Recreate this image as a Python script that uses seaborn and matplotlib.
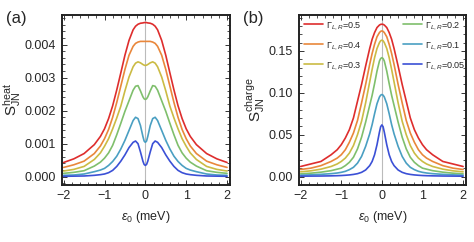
#!/usr/bin/env python3
# Johnson-Nyquist heat and charge noise vs dot level

import pandas as pd
import numpy as np
import matplotlib
matplotlib.use('Agg')
import matplotlib.pyplot as plt
import seaborn as sns
from matplotlib.ticker import AutoMinorLocator, FormatStrFormatter

sns.set_style('ticks')
plt.rcParams['font.family'] = ['Liberation Sans', 'DejaVu Sans']
plt.rcParams['mathtext.fontset'] = 'custom'
plt.rcParams['mathtext.rm'] = 'Liberation Sans'
plt.rcParams['mathtext.it'] = 'Liberation Sans:italic'

# energy grid (meV)
eps0 = [-2, -1.75, -1.5, -1.25, -1.1, -1.0, -0.9, -0.8, -0.7, -0.6, -0.5, -0.4, -0.3, -0.24, -0.18, -0.12, -0.06, -0.03,
        0, 0.03, 0.06, 0.12, 0.18, 0.24, 0.3, 0.4, 0.5, 0.6, 0.7, 0.8, 0.9, 1.0, 1.1, 1.25, 1.5, 1.75, 2]

gammas = ['0.5', '0.4', '0.3', '0.2', '0.1', '0.05']
colors = ['#DE2D2D', '#E9873B', '#CBBB44', '#7FBF6C', '#4A9FC2', '#3B50D6']

# panel (a): heat noise
heat_05 = [0.00043, 0.00054, 0.00070, 0.00097, 0.00122, 0.00145, 0.00176, 0.00215, 0.00263, 0.00315, 0.00368, 0.00413,
           0.00445, 0.00456, 0.00462, 0.00465, 0.00466, 0.00467, 0.00467, 0.00467, 0.00466, 0.00465, 0.00462, 0.00456,
           0.00445, 0.00413, 0.00368, 0.00315, 0.00263, 0.00215, 0.00176, 0.00145, 0.00122, 0.00097, 0.00070, 0.00054,
           0.00043]
heat_04 = [0.00028, 0.00036, 0.00047, 0.00070, 0.00093, 0.00115, 0.00143, 0.00180, 0.00225, 0.00275, 0.00325, 0.00368,
           0.00395, 0.00404, 0.00408, 0.00410, 0.00410, 0.00410, 0.00410, 0.00410, 0.00410, 0.00410, 0.00408, 0.00404,
           0.00395, 0.00368, 0.00325, 0.00275, 0.00225, 0.00180, 0.00143, 0.00115, 0.00093, 0.00070, 0.00047, 0.00036,
           0.00028]
heat_03 = [0.00017, 0.00022, 0.00031, 0.00052, 0.00072, 0.00092, 0.00115, 0.00145, 0.00178, 0.00214, 0.00260, 0.00302,
           0.00333, 0.00344, 0.00348, 0.00345, 0.00340, 0.00338, 0.00337, 0.00338, 0.00340, 0.00345, 0.00348, 0.00344,
           0.00333, 0.00302, 0.00260, 0.00214, 0.00178, 0.00145, 0.00115, 0.00092, 0.00072, 0.00052, 0.00031, 0.00022,
           0.00017]
heat_02 = [0.00010, 0.00013, 0.00018, 0.00032, 0.00044, 0.00056, 0.00072, 0.00095, 0.00127, 0.00162, 0.00198, 0.00230,
           0.00262, 0.00274, 0.00276, 0.00260, 0.00242, 0.00236, 0.00234, 0.00236, 0.00242, 0.00260, 0.00276, 0.00274,
           0.00262, 0.00230, 0.00198, 0.00162, 0.00127, 0.00095, 0.00072, 0.00056, 0.00044, 0.00032, 0.00018, 0.00013,
           0.00010]
heat_01 = [0.00004, 0.00005, 0.00008, 0.00015, 0.00020, 0.00025, 0.00034, 0.00046, 0.00062, 0.00084, 0.00110, 0.00140,
           0.00170, 0.00180, 0.00176, 0.00155, 0.00122, 0.00108, 0.00104, 0.00108, 0.00122, 0.00155, 0.00176, 0.00180,
           0.00170, 0.00140, 0.00110, 0.00084, 0.00062, 0.00046, 0.00034, 0.00025, 0.00020, 0.00015, 0.00008, 0.00005,
           0.00004]
heat_005 = [0.00001, 0.000015, 0.00002, 0.00004, 0.00006, 0.00008, 0.00012, 0.00019, 0.00031, 0.00047, 0.00066, 0.00088,
            0.00104, 0.00108, 0.00100, 0.00075, 0.00047, 0.00037, 0.00034, 0.00037, 0.00047, 0.00075, 0.00100, 0.00108,
            0.00104, 0.00088, 0.00066, 0.00047, 0.00031, 0.00019, 0.00012, 0.00008, 0.00006, 0.00004, 0.00002, 0.000015,
            0.00001]

# panel (b): charge noise
charge_05 = [0.012, 0.015, 0.018, 0.026, 0.032, 0.038, 0.046, 0.056, 0.070, 0.090, 0.110, 0.132, 0.153, 0.164, 0.172,
             0.178, 0.181, 0.1818, 0.182, 0.1818, 0.181, 0.178, 0.172, 0.164, 0.153, 0.132, 0.110, 0.090, 0.070, 0.056,
             0.046, 0.038, 0.032, 0.026, 0.018, 0.015, 0.012]
charge_04 = [0.0084, 0.010, 0.013, 0.018, 0.022, 0.026, 0.032, 0.041, 0.052, 0.067, 0.088, 0.110, 0.134, 0.147, 0.158,
             0.167, 0.172, 0.1735, 0.174, 0.1735, 0.172, 0.167, 0.158, 0.147, 0.134, 0.110, 0.088, 0.067, 0.052, 0.041,
             0.032, 0.026, 0.022, 0.018, 0.013, 0.010, 0.0084]
charge_03 = [0.0056, 0.0068, 0.0088, 0.012, 0.015, 0.018, 0.022, 0.028, 0.037, 0.050, 0.066, 0.088, 0.113, 0.128, 0.142,
             0.153, 0.160, 0.1622, 0.163, 0.1622, 0.160, 0.153, 0.142, 0.128, 0.113, 0.088, 0.066, 0.050, 0.037, 0.028,
             0.022, 0.018, 0.015, 0.012, 0.0088, 0.0068, 0.0056]
charge_02 = [0.0032, 0.0040, 0.0052, 0.0070, 0.0088, 0.010, 0.013, 0.017, 0.023, 0.033, 0.047, 0.065, 0.085, 0.097, 0.111,
             0.126, 0.138, 0.141, 0.142, 0.141, 0.138, 0.126, 0.111, 0.097, 0.085, 0.065, 0.047, 0.033, 0.023, 0.017,
             0.013, 0.010, 0.0088, 0.0070, 0.0052, 0.0040, 0.0032]
charge_01 = [0.0016, 0.0020, 0.0026, 0.0034, 0.0042, 0.0050, 0.0062, 0.0082, 0.011, 0.016, 0.024, 0.036, 0.051, 0.062,
             0.075, 0.087, 0.095, 0.0972, 0.098, 0.0972, 0.095, 0.087, 0.075, 0.062, 0.051, 0.036, 0.024, 0.016, 0.011,
             0.0082, 0.0062, 0.0050, 0.0042, 0.0034, 0.0026, 0.0020, 0.0016]
charge_005 = [0.0004, 0.0005, 0.0006, 0.0008, 0.0010, 0.0012, 0.0015, 0.0019, 0.0025, 0.0034, 0.0050, 0.0078, 0.013, 0.018,
              0.026, 0.038, 0.053, 0.0595, 0.0617, 0.0595, 0.053, 0.038, 0.026, 0.018, 0.013, 0.0078, 0.0050, 0.0034,
              0.0025, 0.0019, 0.0015, 0.0012, 0.0010, 0.0008, 0.0006, 0.0005, 0.0004]

heat = [heat_05, heat_04, heat_03, heat_02, heat_01, heat_005]
charge = [charge_05, charge_04, charge_03, charge_02, charge_01, charge_005]


def long_form(series):
    rows = []
    for g, ys in zip(gammas, series):
        for x, y in zip(eps0, ys):
            rows.append({'eps0': x, 'S': y, 'gamma': r'$\Gamma_{L,R}$=' + g})
    return pd.DataFrame(rows)


df_heat = long_form(heat)
df_charge = long_form(charge)
labels = [r'$\Gamma_{L,R}$=' + g for g in gammas]

fig = plt.figure(figsize=(4.74, 2.42), dpi=100)
ax1 = fig.add_axes([0.130, 0.236, 0.355, 0.702])
ax2 = fig.add_axes([0.630, 0.236, 0.353, 0.702])

for ax, df in [(ax1, df_heat), (ax2, df_charge)]:
    ax.axvline(0, color='#BBBBBB', lw=0.8, zorder=0)
    sns.lineplot(data=df, x='eps0', y='S', hue='gamma', hue_order=labels,
                 palette=colors, lw=1.2, ax=ax, legend=(ax is ax2), sort=False)
    ax.set_xlim(-2.05, 2.07)
    ax.set_xticks([-2, -1, 0, 1, 2])
    ax.xaxis.set_minor_locator(AutoMinorLocator(5))
    ax.yaxis.set_minor_locator(AutoMinorLocator(5))
    ax.tick_params(which='both', direction='in', top=True, right=True, labelsize=9, color='#333333', pad=4)
    ax.tick_params(which='major', length=3.5, width=0.7)
    ax.tick_params(which='minor', length=2, width=0.6)
    for sp in ax.spines.values():
        sp.set_linewidth(1.4)
        sp.set_color('#222222')
    ax.set_xlabel(r'$\varepsilon_0$ (meV)', fontsize=9, labelpad=5)

ax1.set_ylim(-0.00025, 0.0049)
ax1.set_yticks([0, 0.001, 0.002, 0.003, 0.004])
ax1.yaxis.set_major_formatter(FormatStrFormatter('%.3f'))
ax1.set_ylabel(r'$\mathrm{S}_{\mathrm{JN}}^{\mathrm{heat}}$', fontsize=11, labelpad=1)

ax2.set_ylim(-0.01, 0.193)
ax2.set_yticks([0, 0.05, 0.10, 0.15])
ax2.yaxis.set_major_formatter(FormatStrFormatter('%.2f'))
ax2.set_ylabel(r'$\mathrm{S}_{\mathrm{JN}}^{\mathrm{charge}}$', fontsize=11, labelpad=1)

leg = ax2.legend(loc='upper left', bbox_to_anchor=(0.0, 1.0), ncol=2, frameon=False, fontsize=6.5,
                 handlelength=2.1, handletextpad=0.35, labelspacing=0.95, columnspacing=4.6, borderaxespad=0.15)
for line in leg.get_lines():
    line.set_linewidth(1.2)

fig.text(0.012, 0.905, '(a)', fontsize=12)
fig.text(0.512, 0.905, '(b)', fontsize=12)

plt.savefig('out.png', dpi=100)
